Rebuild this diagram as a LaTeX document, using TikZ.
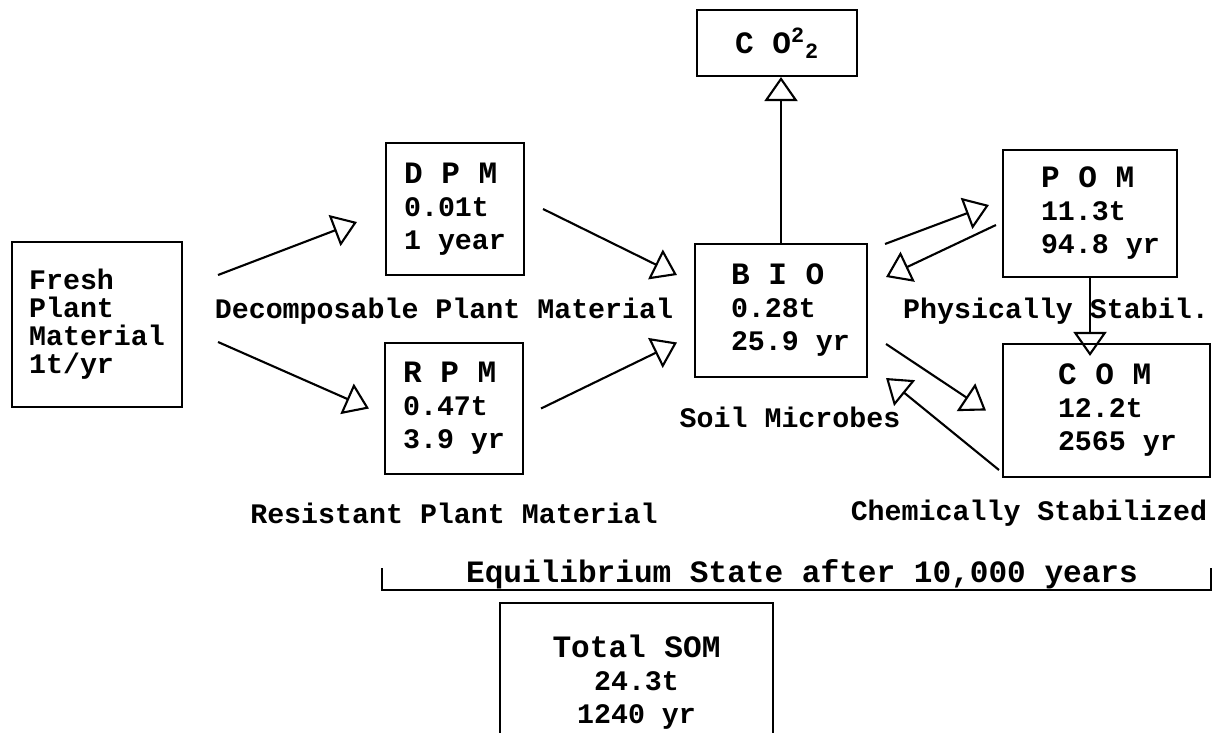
\documentclass[tikz,border=0pt]{standalone}
\usepackage{fontspec}
\setmainfont{Liberation Mono}
\usetikzlibrary{arrows.meta}

\newcommand{\bodyfnt}{\fontsize{16.1}{18.8}\selectfont\bfseries}
\newcommand{\headfnt}{\fontsize{17.7}{18.8}\selectfont\bfseries}

\tikzset{
  pool/.style={draw, line width=1.2pt, align=flush left, inner sep=0pt, font=\bodyfnt},
  flow/.style={-{Triangle[open,length=0.48cm,width=0.66cm]}, line width=1.2pt},
  lbl/.style={font=\bodyfnt, inner sep=0pt},
}

\begin{document}
\begin{tikzpicture}[x=0.02cm,y=-0.02cm]
  \useasboundingbox (0,0) rectangle (1217,733);
  \clip (0,0) rectangle (1217,733);

  % pools
  \node[pool, minimum width=3.4cm, minimum height=3.3cm,
        font={\fontsize{16.1}{15.9}\selectfont\bfseries}] (fresh) at (97,324.5)
        {Fresh\\Plant\\Material\\1t/yr};
  \node[pool, minimum width=2.76cm, minimum height=2.64cm] (dpm) at (455,209)
        {{\headfnt D P M}\\0.01t\\1 year};
  \node[pool, minimum width=2.76cm, minimum height=2.62cm] (rpm) at (454,408.5)
        {{\headfnt R P M}\\0.47t\\3.9 yr};
  \node[pool, minimum width=3.44cm, minimum height=2.66cm, text width=2cm] (bio) at (781,310.5)
        {{\headfnt\mbox{B I O}}\\0.28t\\\mbox{25.9 yr}};
  \node[pool, minimum width=3.2cm, minimum height=1.32cm] (co2) at (777,43)
        {{\headfnt C O\textsuperscript{2}\textsubscript{2}}};
  \node[pool, minimum width=3.48cm, minimum height=2.54cm, text width=1.96cm] (pom) at (1090,213.5)
        {{\headfnt\mbox{P O M}}\\11.3t\\\mbox{94.8 yr}};
  \node[pool, minimum width=4.14cm, minimum height=2.66cm, text width=1.94cm] (com) at (1106.5,410.5)
        {{\headfnt\mbox{C O M}}\\12.2t\\\mbox{2565 yr}};

  % flows
  \draw[flow] ([xshift=0.7cm,yshift=0.99cm]fresh.east) -- ([xshift=-0.56cm,yshift=-0.26cm]dpm.west);
  \draw[flow] ([xshift=0.7cm,yshift=-0.35cm]fresh.east) -- ([xshift=-0.3cm]rpm.west);
  \draw[flow] ([xshift=0.36cm]dpm.east) -- ([xshift=-0.34cm,yshift=0.71cm]bio.west);
  \draw[flow] ([xshift=0.34cm]rpm.east) -- ([xshift=-0.34cm,yshift=-0.64cm]bio.west);
  \draw[flow] (bio.north) -- (bio.north |- co2.south);
  \draw[flow] ([xshift=0.34cm,yshift=1.33cm]bio.east) -- ([xshift=-0.26cm,yshift=0.17cm]pom.west);
  \draw[flow] ([xshift=-0.12cm,yshift=-0.23cm]pom.west) -- ([xshift=0.36cm,yshift=0.67cm]bio.east);
  \draw[flow, shorten >=-0.26cm] (pom.south) -- (pom.south |- com.north);
  \draw[flow] ([xshift=0.36cm,yshift=-0.67cm]bio.east) -- ([xshift=-0.32cm]com.west);
  \draw[flow] ([xshift=-0.06cm,yshift=-1.19cm]com.west) -- ([xshift=0.36cm,yshift=-1.35cm]bio.east);

  % names of the pools
  \node[lbl] (dpmname)  at (444,311)  {Decomposable Plant Material};
  \node[lbl] (rpmname)  at (454,513)  {Resistant Plant Material};
  \node[lbl] (bioname)  at (790,417)  {Soil Microbes};
  \node[lbl] (pomname)  at (1056,311) {Physically Stabil.};
  \node[lbl] (comname)  at (1029,513) {Chemically Stabilized};

  % equilibrium
  \draw[line width=1.2pt] (382,568) -- (382,590) -- (1211,590) -- (1211,568);
  \node[lbl, font=\headfnt] (equil) at (802,574) {Equilibrium State after 10,000 years};
  \node[pool, align=center, anchor=north, minimum width=5.46cm, inner ysep=0.64cm] (total) at (636.5,602)
        {{\headfnt Total SOM}\\24.3t\\1240 yr};
\end{tikzpicture}
\end{document}
